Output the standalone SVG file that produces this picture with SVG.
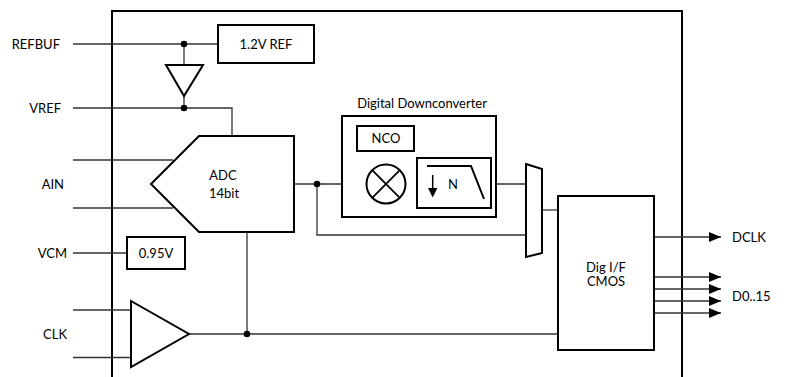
<svg xmlns="http://www.w3.org/2000/svg" width="787" height="377" viewBox="0 0 787 377">
<defs>
<style>
.box{fill:#fff;stroke:#000;stroke-width:2}
.frame{fill:none;stroke:#000;stroke-width:2}
.w{fill:none;stroke:#333;stroke-width:1.3}
.dot{fill:#000}
.t{font-family:Lato,"Open Sans","Liberation Sans",sans-serif;font-size:13px;fill:#000}
.c{text-anchor:middle}
.e{text-anchor:end}
</style>
<marker id="arr" markerUnits="userSpaceOnUse" markerWidth="13" markerHeight="10" refX="12" refY="5" orient="auto">
<path d="M0,0 L12,5 L0,10 Z" fill="#000"/>
</marker>
</defs>
<rect width="787" height="377" fill="#fff"/>
<g id="chip-frame"><path class="frame" d="M112,390 V11 H682 V390"/></g>
<g id="connectors">
<path class="w" d="M73,44 H218"/>
<path class="w" d="M184,44 V65"/>
<path class="w" d="M184,96 V108"/>
<path class="w" d="M73,108 H232 V136"/>
<path class="w" d="M73,160 H173"/>
<path class="w" d="M73,208 H173"/>
<path class="w" d="M73,253 H127"/>
<path class="w" d="M73,310 H131"/>
<path class="w" d="M73,357.5 H131"/>
<path class="w" d="M294,184 H366.5"/>
<path class="w" d="M405.5,184 H417"/>
<path class="w" d="M386,151 V164.5"/>
<path class="w" d="M491,184 H526"/>
<path class="w" d="M317,184 V235 H526"/>
<path class="w" d="M542,210 H558"/>
<path class="w" d="M189,334 H558"/>
<path class="w" d="M247,232 V334"/>
<path class="w" d="M654,237 H721" marker-end="url(#arr)"/>
<path class="w" d="M654,277 H721" marker-end="url(#arr)"/>
<path class="w" d="M654,289 H721" marker-end="url(#arr)"/>
<path class="w" d="M654,301 H721" marker-end="url(#arr)"/>
<path class="w" d="M654,313 H721" marker-end="url(#arr)"/>
<circle class="dot" cx="184" cy="44" r="3.3"/>
<circle class="dot" cx="184" cy="108" r="3.3"/>
<circle class="dot" cx="317" cy="184" r="3.3"/>
<circle class="dot" cx="247" cy="334" r="3.3"/>
</g>
<g id="ref12"><rect class="box" x="218" y="25" width="96" height="38"/><text class="t c" x="266" y="48.5">1.2V REF</text></g>
<g id="refbuf-amp"><path class="box" d="M166,65 H203 L184,96 Z"/></g>
<g id="adc"><path class="box" d="M199,136 H294 V232 H199 L151,184 Z"/><text class="t c" x="223" y="180">ADC</text><text class="t c" x="224" y="198">14bit</text></g>
<g id="vcm"><rect class="box" x="127" y="237" width="58" height="32"/><text class="t c" x="156" y="257.5">0.95V</text></g>
<g id="clk-amp"><path class="box" d="M131,301 L189,334 L131,367 Z"/></g>
<g id="ddc"><rect class="box" x="342" y="116" width="154" height="101"/><text class="t c" x="422" y="107.5">Digital Downconverter</text></g>
<g id="nco"><rect class="box" x="357" y="126" width="57" height="25"/><text class="t c" x="386" y="143">NCO</text></g>
<g id="mixer"><circle class="box" cx="386" cy="184" r="19.5"/><path class="w" style="stroke:#000;stroke-width:1.8" d="M372.2,170.2 L399.8,197.8 M399.8,170.2 L372.2,197.8"/></g>
<g id="decim-filter"><rect class="box" x="417" y="158" width="74" height="50"/><path fill="none" stroke="#000" stroke-width="2" d="M427,166 H471 L484,199"/><path fill="none" stroke="#000" stroke-width="1.5" d="M432.7,175 V190"/><path d="M428,188 L437.4,188 L432.7,197.5 Z" fill="#000"/><text class="t c" x="453" y="188.5">N</text></g>
<g id="mux"><path class="box" d="M526,164 L542,169 V253 L526,257 Z"/></g>
<g id="dig-if"><rect class="box" x="558" y="196" width="96" height="154"/><text class="t c" x="606" y="271.5">Dig I/F</text><text class="t c" x="606" y="286">CMOS</text></g>
<g id="labels">
<text class="t e" x="60" y="48.5">REFBUF</text>
<text class="t e" x="61" y="112.5">VREF</text>
<text class="t e" x="64" y="188.5">AIN</text>
<text class="t e" x="67" y="257.5">VCM</text>
<text class="t e" x="67" y="338.5">CLK</text>
<text class="t" x="732" y="241.5">DCLK</text>
<text class="t" x="732" y="300.5">D0..15</text>
</g>
</svg>
